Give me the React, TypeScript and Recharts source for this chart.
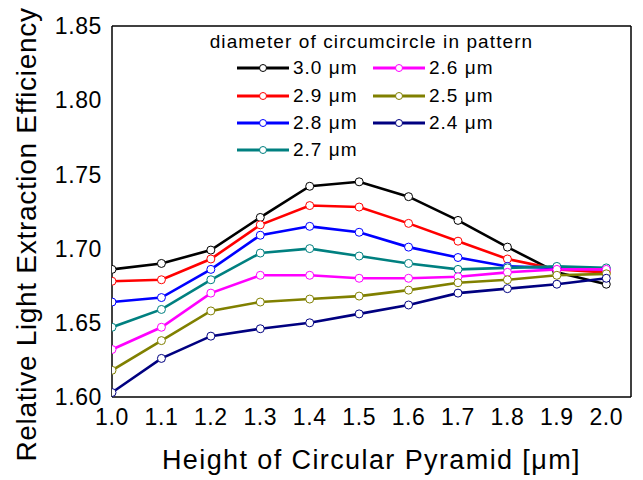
import React from 'react';
import { LineChart, Line, XAxis, YAxis, Legend } from 'recharts';

const FONT = '"Liberation Sans", Arial, Helvetica, sans-serif';

const heights = [1.0, 1.1, 1.2, 1.3, 1.4, 1.5, 1.6, 1.7, 1.8, 1.9, 2.0];
const xTicks = [1.0, 1.1, 1.2, 1.3, 1.4, 1.5, 1.6, 1.7, 1.8, 1.9, 2.0];
const yMajorTicks = [1.6, 1.65, 1.7, 1.75, 1.8, 1.85];
const yMinorTicks = [1.6, 1.625, 1.65, 1.675, 1.7, 1.725, 1.75, 1.775, 1.8, 1.825, 1.85];

const xTitle = 'Height of Circular Pyramid [\u03bcm]';
const yTitle = 'Relative Light Extraction Efficiency';
const legendTitle = 'diameter of circumcircle in pattern';

const seriesNames = ['3.0 \u03bcm', '2.9 \u03bcm', '2.8 \u03bcm', '2.7 \u03bcm', '2.6 \u03bcm', '2.5 \u03bcm', '2.4 \u03bcm'];
const seriesColors = ['#000000', '#ff0000', '#0000ff', '#008080', '#ff00ff', '#808000', '#000080'];

const d30 = [1.686, 1.690, 1.699, 1.721, 1.742, 1.745, 1.735, 1.719, 1.701, 1.684, 1.676];
const d29 = [1.678, 1.679, 1.693, 1.716, 1.729, 1.728, 1.717, 1.705, 1.693, 1.686, 1.684];
const d28 = [1.664, 1.667, 1.686, 1.709, 1.715, 1.711, 1.701, 1.694, 1.688, 1.687, 1.686];
const d27 = [1.647, 1.659, 1.679, 1.697, 1.700, 1.695, 1.690, 1.686, 1.687, 1.688, 1.687];
const d26 = [1.632, 1.647, 1.670, 1.682, 1.682, 1.680, 1.680, 1.681, 1.684, 1.686, 1.686];
const d25 = [1.618, 1.638, 1.658, 1.664, 1.666, 1.668, 1.672, 1.677, 1.679, 1.682, 1.683];
const d24 = [1.603, 1.626, 1.641, 1.646, 1.650, 1.656, 1.662, 1.670, 1.673, 1.676, 1.680];

const seriesValues = [d30, d29, d28, d27, d26, d25, d24];

const data = heights.map((h, i) => {
  const row: Record<string, number> = { h };
  seriesValues.forEach((vals, s) => {
    row[`s${s}`] = vals[i];
  });
  return row;
});

const XTitle = (props: any) => {
  const vb = props.viewBox || { x: 0, y: 0, width: 0, height: 0 };
  return (
    <text
      x={vb.x + vb.width / 2}
      y={vb.y + 72}
      textAnchor="middle"
      fontFamily={FONT}
      fontSize={27}
      letterSpacing={1.4}
      fill="#000"
    >
      {xTitle}
    </text>
  );
};

const YTitle = (props: any) => {
  const vb = props.viewBox || { x: 0, y: 0, width: 0, height: 0 };
  const cx = vb.x - 23.5;
  const cy = vb.y + vb.height / 2 + 23;
  return (
    <text
      x={cx}
      y={cy}
      dy="0.355em"
      transform={`rotate(-90, ${cx}, ${cy})`}
      textAnchor="middle"
      fontFamily={FONT}
      fontSize={28}
      letterSpacing={0.7}
      fill="#000"
    >
      {yTitle}
    </text>
  );
};

const LegendBox = () => (
  <div style={{ position: 'relative', width: 519, height: 150, fontFamily: FONT, color: '#000' }}>
    <div style={{ textAlign: 'center', fontSize: 19, letterSpacing: 1.1, lineHeight: '22px', whiteSpace: 'nowrap' }}>
      {legendTitle}
    </div>
    {seriesNames.map((name, i) => {
      const col = Math.floor(i / 4);
      const row = i % 4;
      const color = seriesColors[i];
      return (
        <div
          key={name}
          style={{
            position: 'absolute',
            left: 125 + col * 136,
            top: 27.3 + row * 27.2,
            height: 20,
            display: 'flex',
            alignItems: 'center',
            whiteSpace: 'nowrap',
          }}
        >
          <svg width={52} height={20} style={{ display: 'block' }}>
            <line x1={0} y1={10} x2={52} y2={10} stroke={color} strokeWidth={3} />
            <circle cx={26} cy={10} r={3.5} fill="#fff" stroke={color} strokeWidth={1} />
          </svg>
          <span style={{ marginLeft: 4, fontSize: 19, letterSpacing: 1, lineHeight: '20px' }}>{name}</span>
        </div>
      );
    })}
  </div>
);

const axisStroke = { stroke: '#000', strokeWidth: 1.5 };
const tickLineStroke = { stroke: '#000', strokeWidth: 1.2 };

export default function App() {
  return (
    <div style={{ position: 'absolute', left: 0, top: 0, width: 643, height: 480, background: '#fff' }}>
      <LineChart width={643} height={480} data={data} margin={{ top: 26, right: 12, bottom: 53, left: 50 }}>
        <XAxis
          xAxisId="main"
          dataKey="h"
          type="number"
          domain={[1.0, 2.05]}
          allowDataOverflow
          ticks={xTicks}
          interval={0}
          tickFormatter={(v: number) => v.toFixed(1)}
          tickLine={false}
          tickSize={6}
          tickMargin={6}
          height={30}
          axisLine={axisStroke}
          tick={{ fontSize: 23, fill: '#000', fontFamily: FONT, letterSpacing: 0.6 }}
          label={<XTitle />}
        />
        <XAxis
          xAxisId="xin"
          dataKey="h"
          type="number"
          domain={[1.0, 2.05]}
          allowDataOverflow
          ticks={xTicks}
          interval={0}
          mirror
          tick={false}
          tickSize={6}
          axisLine={false}
          tickLine={tickLineStroke}
        />
        <XAxis
          xAxisId="top"
          dataKey="h"
          type="number"
          orientation="top"
          domain={[1.0, 2.05]}
          allowDataOverflow
          mirror
          tick={false}
          tickLine={false}
          axisLine={axisStroke}
        />
        <YAxis
          yAxisId="main"
          type="number"
          domain={[1.6, 1.85]}
          allowDataOverflow
          ticks={yMajorTicks}
          interval={0}
          tickFormatter={(v: number) => v.toFixed(2)}
          width={62}
          tickLine={false}
          tickSize={6}
          tickMargin={4}
          axisLine={axisStroke}
          tick={{ fontSize: 23, fill: '#000', fontFamily: FONT, letterSpacing: 0.6 }}
          label={<YTitle />}
        />
        <YAxis
          yAxisId="minor"
          type="number"
          domain={[1.6, 1.85]}
          allowDataOverflow
          ticks={yMinorTicks}
          interval={0}
          mirror
          tick={false}
          tickSize={4.5}
          axisLine={false}
          tickLine={tickLineStroke}
        />
        <YAxis
          yAxisId="major"
          type="number"
          domain={[1.6, 1.85]}
          allowDataOverflow
          ticks={yMajorTicks}
          interval={0}
          mirror
          tick={false}
          tickSize={8}
          axisLine={false}
          tickLine={tickLineStroke}
        />
        <YAxis
          yAxisId="right"
          type="number"
          orientation="right"
          domain={[1.6, 1.85]}
          allowDataOverflow
          mirror
          tick={false}
          tickLine={false}
          axisLine={axisStroke}
        />
        <Legend
          layout="horizontal"
          verticalAlign="middle"
          align="center"
          wrapperStyle={{ left: 112, top: 31, width: 519, height: 150 }}
          content={() => <LegendBox />}
        />
        {seriesValues.map((_, s) => (
          <Line
            key={s}
            xAxisId="main"
            yAxisId="main"
            type="linear"
            dataKey={`s${s}`}
            name={seriesNames[s]}
            stroke={seriesColors[s]}
            strokeWidth={2.6}
            dot={{ r: 4, fill: '#fff', stroke: seriesColors[s], strokeWidth: 1 }}
            isAnimationActive={false}
          />
        ))}
      </LineChart>
    </div>
  );
}
